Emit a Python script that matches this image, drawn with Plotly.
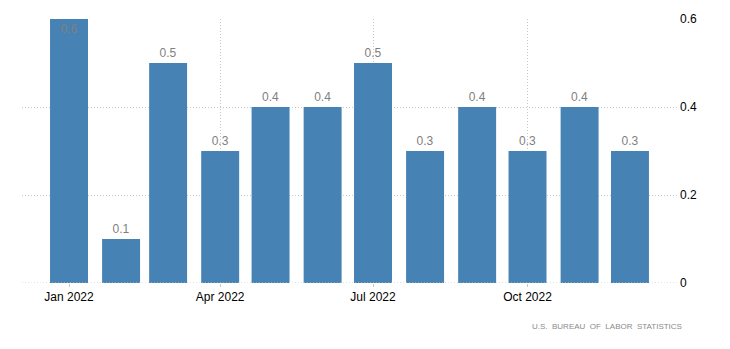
import plotly.graph_objects as go

months = ["2022-01-01", "2022-02-01", "2022-03-01", "2022-04-01", "2022-05-01", "2022-06-01",
          "2022-07-01", "2022-08-01", "2022-09-01", "2022-10-01", "2022-11-01", "2022-12-01"]
values = [0.6, 0.1, 0.5, 0.3, 0.4, 0.4, 0.5, 0.3, 0.4, 0.3, 0.4, 0.3]
tick_dates = ["2022-01-01", "2022-04-01", "2022-07-01", "2022-10-01"]
tick_labels = ["Jan 2022", "Apr 2022", "Jul 2022", "Oct 2022"]
y_ticks = [0, 0.2, 0.4, 0.6]
y_tick_labels = ["0", "0.2", "0.4", "0.6"]
source = "U.S.  BUREAU  OF  LABOR  STATISTICS"

ymax = max(values)
positions = ["inside" if v >= ymax else "outside" for v in values]

fig = go.Figure(go.Bar(
    x=months,
    y=values,
    width=22.6 * 86400000,
    marker=dict(color="#4682B4", line=dict(width=0)),
    text=[f"{v:.1f}" for v in values],
    textposition=positions,
    insidetextanchor="end",
    textfont=dict(color="#7f7f7f", size=12, family="Liberation Sans"),
    cliponaxis=False,
))

grid_dash = "1px,2px"

fig.update_layout(
    width=730, height=349,
    margin=dict(l=22, r=53, t=19, b=66),
    plot_bgcolor="white", paper_bgcolor="white",
    font=dict(family="Liberation Sans", size=12, color="black"),
    showlegend=False,
    xaxis=dict(
        type="date",
        range=["2021-12-04", "2022-12-29"],
        tickvals=tick_dates, ticktext=tick_labels,
        showgrid=True, gridcolor="#c8c8c8", griddash=grid_dash, gridwidth=1,
        ticks="outside", ticklen=3, tickcolor="#c8c8c8",
        showline=False, zeroline=False,
        tickfont=dict(size=12, color="black"),
    ),
    yaxis=dict(
        side="right",
        range=[0, 0.6],
        tickvals=y_ticks, ticktext=y_tick_labels,
        showgrid=True, gridcolor="#c8c8c8", griddash=grid_dash, gridwidth=1,
        zeroline=False, showline=False,
        ticks="", ticklabelstandoff=2,
        tickfont=dict(size=12, color="black"),
    ),
    annotations=[dict(
        text=source, xref="paper", yref="paper",
        x=1.011, y=-0.14, xanchor="right", yanchor="top",
        showarrow=False,
        font=dict(size=8, color="#8a8a8a", family="Liberation Sans"),
    )],
)

fig.add_hline(y=0, line=dict(color="#c8c8c8", width=1, dash=grid_dash), layer="above")

fig.write_html("out.html")
